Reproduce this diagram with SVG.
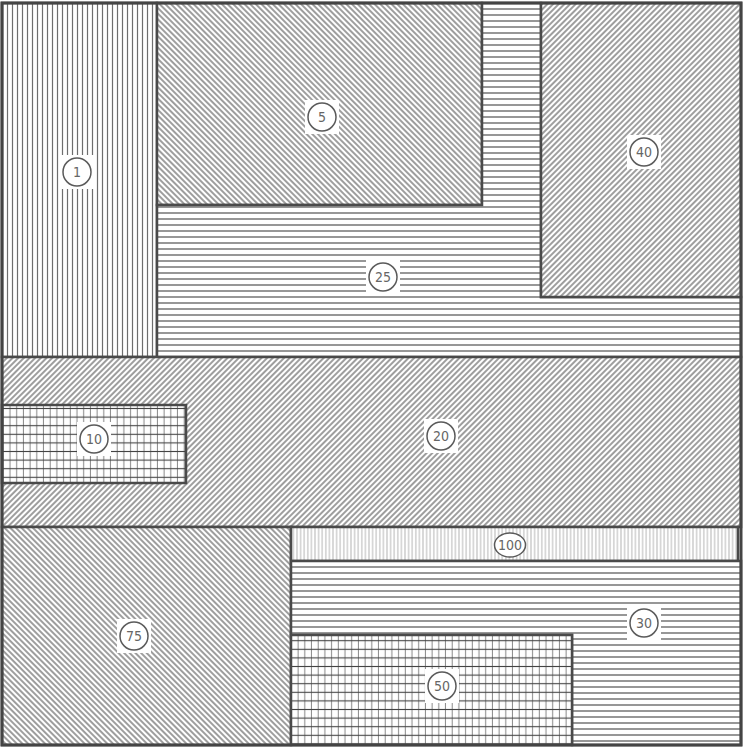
<svg xmlns="http://www.w3.org/2000/svg" width="743" height="748" viewBox="0 0 743 748">
<style>
.edge{stroke:#4a4a4a;stroke-width:2.5;}
.lbl circle{fill:#fff;stroke:#5a5a5a;stroke-width:1.5;}
.lbl rect{fill:#fff;}
.lbl text{font-family:"Liberation Sans Narrow","DejaVu Sans Condensed","Liberation Sans",sans-serif;font-stretch:condensed;font-size:14px;fill:#666;text-anchor:middle;dominant-baseline:central;}
</style>
<defs>
<pattern id="pv" patternUnits="userSpaceOnUse" width="5" height="10"><rect width="5" height="10" fill="#fff"/><line x1="2.5" y1="0" x2="2.5" y2="10" stroke="#6e6e6e" stroke-width="1.2"/></pattern>
<pattern id="pvf" patternUnits="userSpaceOnUse" width="3.6" height="10"><rect width="3.6" height="10" fill="#fff"/><line x1="1.8" y1="0" x2="1.8" y2="10" stroke="#aaa" stroke-width="0.9"/></pattern>
<pattern id="ph" patternUnits="userSpaceOnUse" width="10" height="6"><rect width="10" height="6" fill="#fff"/><line x1="0" y1="3" x2="10" y2="3" stroke="#5e5e5e" stroke-width="1.3"/></pattern>
<pattern id="pf" patternUnits="userSpaceOnUse" width="4" height="10" patternTransform="rotate(45)"><rect width="4" height="10" fill="#fff"/><line x1="2" y1="0" x2="2" y2="10" stroke="#6a6a6a" stroke-width="1.3"/></pattern>
<pattern id="pb" patternUnits="userSpaceOnUse" width="4" height="10" patternTransform="rotate(-45)"><rect width="4" height="10" fill="#fff"/><line x1="2" y1="0" x2="2" y2="10" stroke="#6a6a6a" stroke-width="1.3"/></pattern>
<pattern id="pg" patternUnits="userSpaceOnUse" width="6.7" height="8.6"><rect width="6.7" height="8.6" fill="#fff"/><line x1="3.3" y1="0" x2="3.3" y2="8.6" stroke="#888" stroke-width="1"/><line x1="0" y1="4.3" x2="6.7" y2="4.3" stroke="#444" stroke-width="1.1"/></pattern>
</defs>
<rect width="743" height="748" fill="#fff"/>
<g id="region-1"><rect class="edge" x="2" y="3" width="155" height="354" fill="url(#pv)"/></g>
<g id="region-5"><rect class="edge" x="157" y="3" width="325" height="202" fill="url(#pb)"/></g>
<g id="region-25"><polygon class="edge" points="482,3 541,3 541,297 741,297 741,357 157,357 157,205 482,205" fill="url(#ph)"/></g>
<g id="region-40"><rect class="edge" x="541" y="3" width="200" height="294" fill="url(#pf)"/></g>
<g id="region-20"><rect class="edge" x="2" y="357" width="739" height="170" fill="url(#pf)"/></g>
<g id="region-10"><rect class="edge" x="2" y="405" width="184" height="78" fill="url(#pg)"/></g>
<g id="region-75"><rect class="edge" x="2" y="527" width="289" height="218" fill="url(#pb)"/></g>
<g id="region-100"><rect class="edge" x="291" y="527" width="447" height="34" fill="url(#pvf)"/></g>
<g id="region-30"><polygon class="edge" points="291,561 741,561 741,745 572,745 572,635 291,635" fill="url(#ph)"/></g>
<g id="region-50"><rect class="edge" x="291" y="635" width="281" height="110" fill="url(#pg)"/></g>
<rect x="2" y="3" width="739" height="742" fill="none" stroke="#444" stroke-width="3"/>
<g class="lbl">
<g id="label-1"><rect x="60" y="155" width="34" height="34"/><circle cx="77" cy="172" r="14"/><text x="77" y="172">1</text></g>
<g id="label-5"><rect x="305" y="100" width="34" height="34"/><circle cx="322" cy="117" r="14"/><text x="322" y="117">5</text></g>
<g id="label-40"><rect x="627" y="135" width="34" height="34"/><circle cx="644" cy="152" r="14"/><text x="644" y="152">40</text></g>
<g id="label-25"><rect x="366" y="260" width="34" height="34"/><circle cx="383" cy="277" r="14"/><text x="383" y="277">25</text></g>
<g id="label-20"><rect x="424" y="419" width="34" height="34"/><circle cx="441" cy="436" r="14"/><text x="441" y="436">20</text></g>
<g id="label-10"><rect x="77" y="422" width="34" height="34"/><circle cx="94" cy="439" r="14"/><text x="94" y="439">10</text></g>
<g id="label-75"><rect x="117" y="619" width="34" height="34"/><circle cx="134" cy="636" r="14"/><text x="134" y="636">75</text></g>
<g id="label-100"><ellipse cx="510" cy="545" rx="15.5" ry="12" fill="#fff" stroke="#5a5a5a" stroke-width="1.5"/><text x="510" y="545">100</text></g>
<g id="label-30"><rect x="627" y="606" width="34" height="34"/><circle cx="644" cy="623" r="14"/><text x="644" y="623">30</text></g>
<g id="label-50"><rect x="425" y="669" width="34" height="34"/><circle cx="442" cy="686" r="14"/><text x="442" y="686">50</text></g>
</g>
</svg>
